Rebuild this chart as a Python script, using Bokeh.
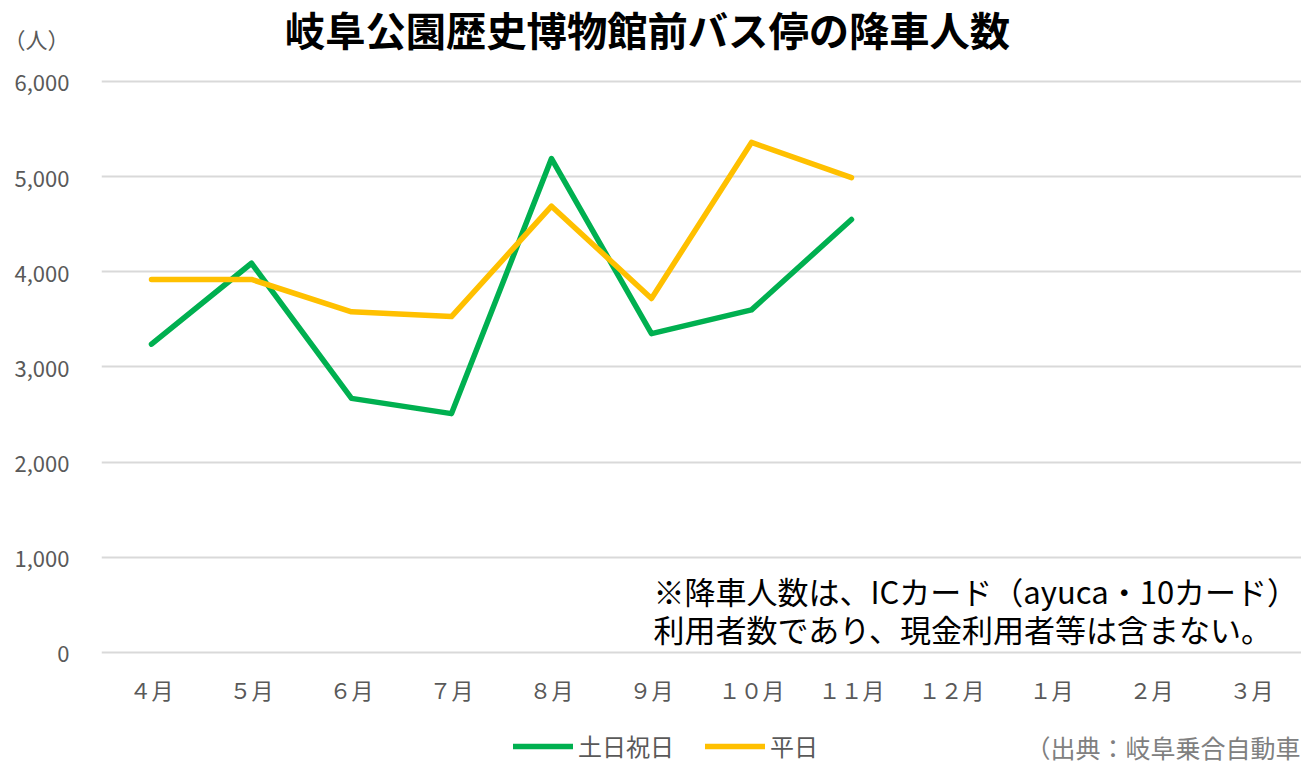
from bokeh.plotting import figure
from bokeh.models import (FactorRange, Range1d, ColumnDataSource, Label, Legend, LegendItem,
                          NumeralTickFormatter, FixedTicker)
from bokeh.embed import file_html
from bokeh.resources import INLINE

# ---- data ----
months = ["４月", "５月", "６月", "７月", "８月", "９月", "１０月", "１１月", "１２月", "１月", "２月", "３月"]
observed = months[:8]
weekend_holiday = [3240, 4090, 2670, 2510, 5190, 3350, 3600, 4550]   # 土日祝日
weekday = [3920, 3920, 3580, 3530, 4690, 3720, 5360, 4990]           # 平日
y_ticks = [0, 1000, 2000, 3000, 4000, 5000, 6000]

title_text = "岐阜公園歴史博物館前バス停の降車人数"
unit_text = "（人）"
note_lines = ["※降車人数は、ICカード（ayuca・10カード）", "利用者数であり、現金利用者等は含まない。"]
source_text = "（出典：岐阜乗合自動車"
series_names = ["土日祝日", "平日"]

JP = "Noto Sans CJK JP"
GRAY = "#595959"

# layout constants (pixels): frame spans the whole height; value axis 0..6000 maps to y=652..81
W, H = 1301, 764
UNIT_POS = 6462  # position of the unit caption on the value axis (above 6,000)

p = figure(width=W, height=H, x_range=FactorRange(factors=months), y_range=Range1d(-1177, 6851),
           output_backend="svg", toolbar_location=None,
           min_border_left=99, min_border_right=0, min_border_top=0, min_border_bottom=0)
p.outline_line_color = None
p.background_fill_color = "white"

# x axis drawn at y = 0
p.xaxis.fixed_location = 0
p.xaxis.axis_line_color = None
p.xaxis.major_tick_line_color = None
p.xaxis.minor_tick_line_color = None
p.xaxis.major_label_standoff = 15
p.xaxis.major_label_text_font = JP
p.xaxis.major_label_text_font_size = "22px"
p.xaxis.major_label_text_color = GRAY

p.yaxis.axis_line_color = None
p.yaxis.major_tick_line_color = None
p.yaxis.minor_tick_line_color = None
p.yaxis.ticker = FixedTicker(ticks=y_ticks + [UNIT_POS])
p.yaxis.formatter = NumeralTickFormatter(format="0,0")
p.yaxis.major_label_overrides = {UNIT_POS: unit_text}
p.yaxis.major_label_standoff = 26
p.yaxis.major_label_text_font = JP
p.yaxis.major_label_text_font_size = "22px"
p.yaxis.major_label_text_color = GRAY

p.xgrid.grid_line_color = None
p.ygrid.ticker = FixedTicker(ticks=y_ticks)
p.ygrid.grid_line_color = "#d9d9d9"
p.ygrid.grid_line_width = 2

src1 = ColumnDataSource(dict(x=observed, y=weekend_holiday))
src2 = ColumnDataSource(dict(x=observed, y=weekday))
r1 = p.line("x", "y", source=src1, line_color="#00b050", line_width=5.5, line_cap="round", line_join="round")
r2 = p.line("x", "y", source=src2, line_color="#ffc000", line_width=5.5, line_cap="round", line_join="round")

legend = Legend(items=[LegendItem(label=series_names[0], renderers=[r1]),
                       LegendItem(label=series_names[1], renderers=[r2])],
                orientation="horizontal", location=(412, 1),
                padding=0, margin=0, spacing=31, label_standoff=5,
                glyph_width=60, glyph_height=20, label_height=20,
                label_text_font=JP, label_text_font_size="24px", label_text_color=GRAY,
                border_line_color=None, background_fill_alpha=0)
p.add_layout(legend, "center")

p.add_layout(Label(x=546, y=736, x_units="screen", y_units="screen", text=title_text,
                   text_align="center", text_baseline="middle", text_font=JP,
                   text_font_size="40.3px", text_font_style="bold", text_color="black"))
for i, line in enumerate(note_lines):
    p.add_layout(Label(x=552, y=174 - 38 * i, x_units="screen", y_units="screen", text=line,
                       text_align="left", text_baseline="middle", text_font=JP,
                       text_font_size="31px", text_color="black"))
p.add_layout(Label(x=924, y=18, x_units="screen", y_units="screen", text=source_text,
                   text_align="left", text_baseline="middle", text_font=JP,
                   text_font_size="25px", text_color="#808080"))

open("out.html", "w").write(file_html(p, INLINE))
